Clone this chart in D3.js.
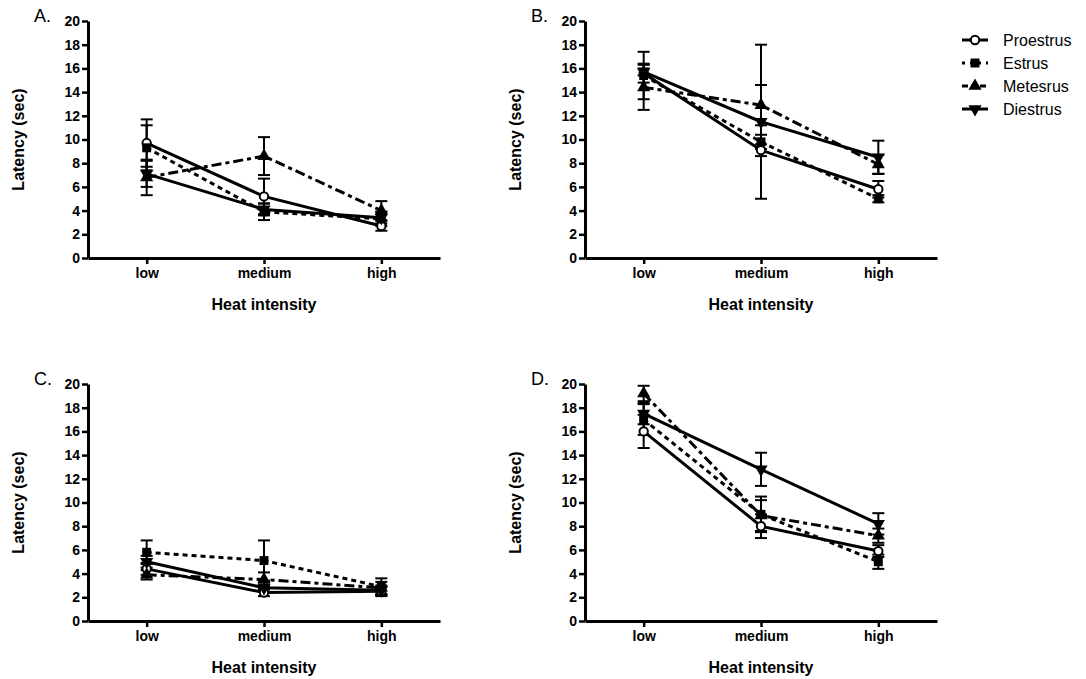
<!DOCTYPE html>
<html>
<head>
<meta charset="utf-8">
<script src="https://cdn.jsdelivr.net/npm/d3@7"></script>
<style>
  body { margin: 0; background: white; }
  svg { display: block; font-family: "Liberation Sans", Arial, sans-serif; }
</style>
</head>
<body>
<div id="chart"></div>
<script>
// categories and series
const categories = ["low", "medium", "high"];
const seriesNames = ["Proestrus", "Estrus", "Metesrus", "Diestrus"];
const panelLabels = ["A.", "B.", "C.", "D."];
const yTicks = [0, 2, 4, 6, 8, 10, 12, 14, 16, 18, 20];

// means per panel: rows = Proestrus, Estrus, Metesrus, Diestrus
const meanA = [[9.7, 5.2, 2.7], [9.3, 3.9, 3.3], [6.8, 8.6, 4.0], [7.1, 4.1, 3.4]];
const errA  = [[2.0, 1.5, 0.4], [1.9, 0.7, 0.6], [1.5, 1.6, 0.8], [1.1, 0.5, 0.5]];
const meanB = [[15.6, 9.1, 5.8], [15.4, 9.8, 5.0], [14.4, 12.9, 7.9], [15.7, 11.5, 8.5]];
const errB  = [[0.8, 0.5, 0.7], [2.0, 0.6, 0.3], [1.9, 1.7, 0.8], [0.3, 6.5, 1.4]];
const meanC = [[4.4, 2.4, 2.5], [5.8, 5.1, 2.9], [3.9, 3.5, 2.8], [5.0, 2.8, 2.6]];
const errC  = [[0.5, 0.3, 0.4], [1.0, 1.7, 0.7], [0.4, 0.6, 0.5], [0.5, 0.3, 0.4]];
const meanD = [[16.0, 8.0, 5.9], [17.0, 9.0, 5.0], [19.2, 8.9, 7.2], [17.5, 12.8, 8.2]];
const errD  = [[1.4, 1.0, 0.5], [1.3, 1.5, 0.6], [0.65, 1.3, 0.6], [0.9, 1.4, 0.9]];

const W = 1086, H = 679;
const svg = d3.select("#chart").append("svg")
  .attr("width", W).attr("height", H);

const panels = [
  { label: panelLabels[0], x0: 88,  x1: 440, top: 21,  bot: 258, mean: meanA, err: errA },
  { label: panelLabels[1], x0: 585, x1: 937, top: 21,  bot: 258, mean: meanB, err: errB },
  { label: panelLabels[2], x0: 88,  x1: 440, top: 384, bot: 621, mean: meanC, err: errC },
  { label: panelLabels[3], x0: 585, x1: 937, top: 384, bot: 621, mean: meanD, err: errD }
];

const dashes = ["none", "5,4", "10,4,4,4", "none"];
const symbols = [d3.symbolCircle, d3.symbolSquare, d3.symbolTriangle, d3.symbolTriangle];
const symSize = [55, 80, 75, 75];

function drawMarker(g, i, x, y) {
  const m = g.append("path")
    .attr("d", d3.symbol().type(symbols[i]).size(symSize[i])())
    .attr("transform", "translate(" + x + "," + y + ")" + (i === 3 ? " rotate(180)" : ""));
  if (i === 0) m.attr("fill", "white").attr("stroke", "black").attr("stroke-width", 2);
  else m.attr("fill", "black");
}

panels.forEach(p => {
  const x = d3.scalePoint().domain(categories).range([p.x0, p.x1]).padding(0.5);
  const y = d3.scaleLinear().domain([0, 20]).range([p.bot, p.top]);
  const g = svg.append("g");

  // axes
  const yAxis = g.append("g")
    .attr("transform", "translate(" + p.x0 + ",0)")
    .call(d3.axisLeft(y).tickValues(yTicks).tickSize(6).tickSizeOuter(0).tickPadding(2));
  const xAxis = g.append("g")
    .attr("transform", "translate(0," + p.bot + ")")
    .call(d3.axisBottom(x).tickSize(6).tickSizeOuter(0).tickPadding(4));
  [yAxis, xAxis].forEach(a => {
    a.select(".domain").attr("stroke-width", 3);
    a.selectAll(".tick line").attr("stroke-width", 2.5);
    a.selectAll(".tick text").attr("font-size", 14).attr("font-weight", "bold")
      .attr("font-family", "Liberation Sans, Arial, sans-serif").attr("fill", "black");
  });

  // titles
  g.append("text")
    .attr("transform", "translate(" + (p.x0 - 64) + "," + ((p.top + p.bot) / 2) + ") rotate(-90)")
    .attr("text-anchor", "middle")
    .attr("font-size", 16).attr("font-weight", "bold")
    .text("Latency (sec)");
  g.append("text")
    .attr("x", (p.x0 + p.x1) / 2 - 0)
    .attr("y", p.bot + 52)
    .attr("text-anchor", "middle")
    .attr("font-size", 16).attr("font-weight", "bold")
    .text("Heat intensity");
  g.append("text")
    .attr("x", p.x0 - 54)
    .attr("y", p.top + 1)
    .attr("font-size", 18)
    .text(p.label);

  // error bars
  seriesNames.forEach((s, i) => {
    categories.forEach((c, j) => {
      const cx = x(c), m = p.mean[i][j], e = p.err[i][j];
      g.append("line")
        .attr("x1", cx).attr("x2", cx)
        .attr("y1", y(m - e)).attr("y2", y(m + e))
        .attr("stroke", "black").attr("stroke-width", 2);
      [m - e, m + e].forEach(v => {
        g.append("line")
          .attr("x1", cx - 6).attr("x2", cx + 6)
          .attr("y1", y(v)).attr("y2", y(v))
          .attr("stroke", "black").attr("stroke-width", 2);
      });
    });
  });

  // lines
  const line = d3.line().x((d, j) => x(categories[j])).y(d => y(d));
  seriesNames.forEach((s, i) => {
    g.append("path")
      .attr("d", line(p.mean[i]))
      .attr("fill", "none")
      .attr("stroke", "black")
      .attr("stroke-width", 3)
      .attr("stroke-dasharray", dashes[i]);
  });

  // markers
  seriesNames.forEach((s, i) => {
    categories.forEach((c, j) => drawMarker(g, i, x(c), y(p.mean[i][j])));
  });
});

// legend
const legend = svg.append("g");
seriesNames.forEach((s, i) => {
  const ly = 40 + i * 23;
  legend.append("line")
    .attr("x1", 962).attr("x2", 988).attr("y1", ly).attr("y2", ly)
    .attr("stroke", "black").attr("stroke-width", 3)
    .attr("stroke-dasharray", i === 1 ? "3,5" : i === 2 ? "6,3" : "none");
  drawMarker(legend, i, 975, ly);
  legend.append("text")
    .attr("x", 1003).attr("y", ly)
    .attr("dy", "0.35em")
    .attr("font-size", 16)
    .text(s);
});
</script>
</body>
</html>
